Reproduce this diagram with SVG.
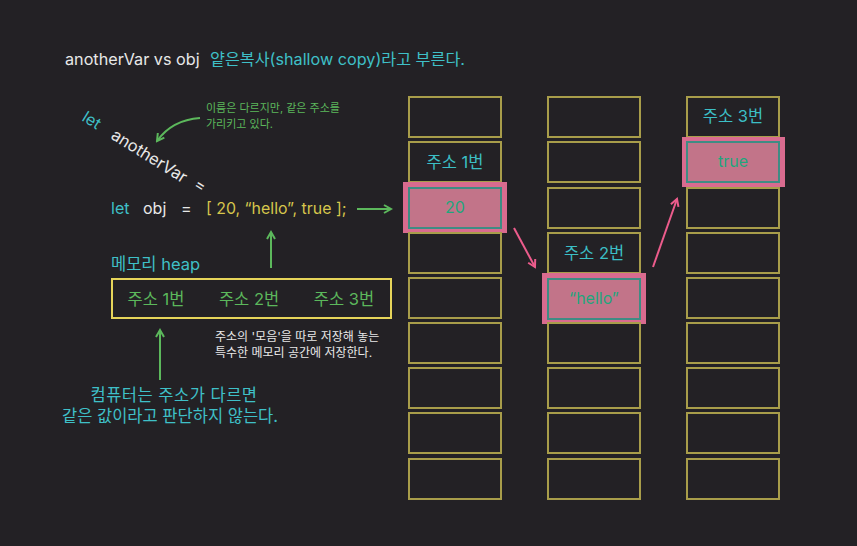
<svg xmlns="http://www.w3.org/2000/svg" width="857" height="546" viewBox="0 0 857 546">
<style>
text{font-family:Inter,"Noto Sans CJK KR","Noto Sans",sans-serif}
.cell{fill:none;stroke:#a89d4a;stroke-width:2}
.hl{fill:#d96b8f}
.hlin{fill:#c27489;stroke:#3f8c84;stroke-width:2}
.ct{fill:#3cbfc6;font-size:16.5px;text-anchor:middle}
.cv{fill:#1fa67d;font-size:16px;text-anchor:middle}
.g{stroke:#5cb85c;stroke-width:2;fill:none}
.p{stroke:#ec5c8c;stroke-width:2;fill:none}
.teal{fill:#3fc0c8}
.white{fill:#e8e8e8}
</style>
<defs>
<marker id="ag" markerWidth="10" markerHeight="10" refX="8" refY="5" orient="auto" markerUnits="userSpaceOnUse"><path d="M1,1 L8,5 L1,9" fill="none" stroke="#5cb85c" stroke-width="2"/></marker>
<marker id="ap" markerWidth="10" markerHeight="10" refX="8" refY="5" orient="auto" markerUnits="userSpaceOnUse"><path d="M1,1 L8,5 L1,9" fill="none" stroke="#ec5c8c" stroke-width="2"/></marker>
</defs>
<rect width="857" height="546" fill="#232125"/>

<g id="title">
<text x="65" y="65" font-size="16.2" class="white">anotherVar vs obj</text>
<text x="210" y="65" font-size="16.2" class="teal">얕은복사(shallow copy)라고 부른다.</text>
</g>

<g id="anotherVar">
<text x="81" y="120" font-size="16" class="teal" transform="rotate(32 81 120)">let</text>
<text x="110" y="138" font-size="16.5" class="white" transform="rotate(32 110 138)">anotherVar</text>
<text x="193" y="187" font-size="16" class="white" transform="rotate(32 193 187)">=</text>
</g>

<g id="note1">
<text x="206" y="112" font-size="11" fill="#5cb85c">이름은 다르지만, 같은 주소를</text>
<text x="206" y="128" font-size="11" fill="#5cb85c">가리키고 있다.</text>
</g>

<g id="objline">
<text x="111" y="214" font-size="16" class="teal">let</text>
<text x="143" y="214" font-size="16" class="white">obj</text>
<text x="181" y="214" font-size="16" class="white">=</text>
<text x="206" y="214" font-size="15.9" fill="#d6c64c">[ 20, “hello”, true ];</text>
</g>

<g id="heaplabel">
<text x="111" y="270" font-size="16.5" class="teal">메모리 heap</text>
</g>

<g id="heap">
<rect x="112" y="279" width="279" height="39" fill="none" stroke="#e6d45a" stroke-width="2"/>
<text x="156" y="305" font-size="16.5" fill="#5cb85c" text-anchor="middle">주소 1번</text>
<text x="249" y="305" font-size="16.5" fill="#5cb85c" text-anchor="middle">주소 2번</text>
<text x="344" y="305" font-size="16.5" fill="#5cb85c" text-anchor="middle">주소 3번</text>
</g>

<g id="note2">
<text x="215" y="341" font-size="12" class="white">주소의 '모음'을 따로 저장해 놓는</text>
<text x="215" y="357" font-size="12" class="white">특수한 메모리 공간에 저장한다.</text>
</g>

<g id="note3">
<text x="174" y="401" font-size="16.5" class="teal" text-anchor="middle" letter-spacing="0.5">컴퓨터는 주소가 다르면</text>
<text x="170" y="422" font-size="16.5" class="teal" text-anchor="middle">같은 값이라고 판단하지 않는다.</text>
</g>

<g id="col1">
<rect class="cell" x="409" y="97" width="92" height="40"/>
<rect class="cell" x="409" y="142" width="92" height="40"/>
<text class="ct" x="455" y="168">주소 1번</text>
<rect class="hl" x="403" y="182" width="104" height="51"/>
<rect class="hlin" x="409" y="188" width="92" height="40"/>
<text class="cv" x="455" y="213">20</text>
<rect class="cell" x="409" y="233" width="92" height="40"/>
<rect class="cell" x="409" y="278" width="92" height="40"/>
<rect class="cell" x="409" y="323" width="92" height="40"/>
<rect class="cell" x="409" y="368" width="92" height="40"/>
<rect class="cell" x="409" y="413" width="92" height="40"/>
<rect class="cell" x="409" y="459" width="92" height="40"/>
</g>

<g id="col2">
<rect class="cell" x="548" y="97" width="92" height="40"/>
<rect class="cell" x="548" y="142" width="92" height="40"/>
<rect class="cell" x="548" y="188" width="92" height="40"/>
<rect class="cell" x="548" y="233" width="92" height="40"/>
<text class="ct" x="594" y="259">주소 2번</text>
<rect class="hl" x="542" y="273" width="104" height="51"/>
<rect class="hlin" x="548" y="279" width="92" height="40"/>
<text class="cv" x="594" y="304">“hello”</text>
<rect class="cell" x="548" y="323" width="92" height="40"/>
<rect class="cell" x="548" y="368" width="92" height="40"/>
<rect class="cell" x="548" y="413" width="92" height="40"/>
<rect class="cell" x="548" y="459" width="92" height="40"/>
</g>

<g id="col3">
<rect class="cell" x="687" y="97" width="92" height="40"/>
<text class="ct" x="733" y="122">주소 3번</text>
<rect class="hl" x="682" y="137" width="103" height="50"/>
<rect class="hlin" x="687" y="142" width="92" height="40"/>
<text class="cv" x="733" y="167">true</text>
<rect class="cell" x="687" y="188" width="92" height="40"/>
<rect class="cell" x="687" y="233" width="92" height="40"/>
<rect class="cell" x="687" y="278" width="92" height="40"/>
<rect class="cell" x="687" y="323" width="92" height="40"/>
<rect class="cell" x="687" y="368" width="92" height="40"/>
<rect class="cell" x="687" y="413" width="92" height="40"/>
<rect class="cell" x="687" y="459" width="92" height="40"/>
</g>

<g id="connectors">
<path class="g" d="M200,118 Q172,120 157,141" marker-end="url(#ag)"/>
<line class="g" x1="357" y1="209" x2="391" y2="209" marker-end="url(#ag)"/>
<line class="g" x1="271" y1="268" x2="271" y2="232" marker-end="url(#ag)"/>
<line class="g" x1="160" y1="380" x2="160" y2="330" marker-end="url(#ag)"/>
<line class="p" x1="514" y1="228" x2="535" y2="267" marker-end="url(#ap)"/>
<line class="p" x1="653" y1="267" x2="677" y2="199" marker-end="url(#ap)"/>
</g>
</svg>
